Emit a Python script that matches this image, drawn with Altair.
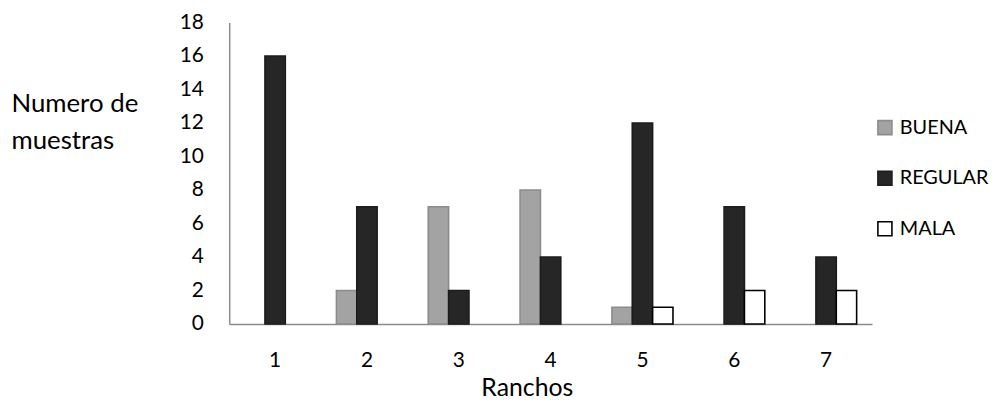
import altair as alt
import pandas as pd

ranchos = ["1", "2", "3", "4", "5", "6", "7"]
calidades = ["BUENA", "REGULAR", "MALA"]
buena = [0, 2, 7, 8, 1, 0, 0]
regular = [16, 7, 2, 4, 12, 7, 4]
mala = [0, 0, 0, 0, 1, 2, 2]
y_ticks = [0, 2, 4, 6, 8, 10, 12, 14, 16, 18]

rows = []
for cal, vals in zip(calidades, [buena, regular, mala]):
    for r, v in zip(ranchos, vals):
        rows.append({"rancho": r, "calidad": cal, "valor": v})
df = pd.DataFrame(rows)

FONT = "Lato"

fill_scale = alt.Scale(domain=calidades, range=["#a3a3a3", "#262626", "#ffffff"])
stroke_scale = alt.Scale(domain=calidades, range=["#8c8c8c", "#1c1c1c", "#000000"])

chart = (
    alt.Chart(df)
    .transform_filter(alt.datum.valor > 0)
    .mark_bar(strokeWidth=1.6)
    .encode(
        x=alt.X(
            "rancho:N",
            sort=ranchos,
            scale=alt.Scale(domain=ranchos, paddingInner=0.335, paddingOuter=0.1675),
            axis=alt.Axis(
                title="Ranchos",
                labelAngle=0,
                ticks=False,
                labelPadding=37,
                labelBaseline="middle",
                labelFontSize=21,
                labelFont=FONT,
                labelColor="#000000",
                titleFont=FONT,
                titleFontSize=25,
                titleFontWeight="normal",
                titleColor="#000000",
                titleX=300,
                titleY=64,
                titleBaseline="middle",
                titleAlign="center",
                domainColor="#8c8c8c",
                domainWidth=1.5,
            ),
        ),
        xOffset=alt.XOffset("calidad:N", sort=calidades, scale=alt.Scale(domain=calidades)),
        y=alt.Y(
            "valor:Q",
            scale=alt.Scale(domain=[0, 18], nice=False),
            axis=alt.Axis(
                title=["Numero de", "muestras"],
                values=y_ticks,
                grid=False,
                ticks=False,
                labelPadding=26,
                labelFontSize=21,
                labelFont=FONT,
                labelColor="#000000",
                titleFont=FONT,
                titleFontSize=26,
                titleFontWeight="normal",
                titleColor="#000000",
                titleAngle=0,
                titleAlign="left",
                titleBaseline="alphabetic",
                titleX=-220,
                titleY=90,
                titleLineHeight=37,
                domainColor="#8c8c8c",
                domainWidth=1.5,
            ),
        ),
        color=alt.Color(
            "calidad:N",
            scale=fill_scale,
            sort=calidades,
            legend=alt.Legend(
                title=None,
                orient="none",
                legendX=651,
                legendY=96,
                symbolType="square",
                symbolSize=200,
                symbolStrokeWidth=1.6,
                labelFont=FONT,
                labelFontSize=20,
                labelColor="#000000",
                labelOffset=5,
                rowPadding=29,
            ),
        ),
        stroke=alt.Stroke("calidad:N", scale=stroke_scale, sort=calidades),
    )
    .properties(
        width=648,
        height=304,
        padding={"left": 223, "top": 13, "right": 127, "bottom": 78},
        autosize=alt.AutoSizeParams(type="none"),
    )
    .configure_view(stroke=None)
)

chart.save("out.html", embed_options={"renderer": "svg", "actions": False})
